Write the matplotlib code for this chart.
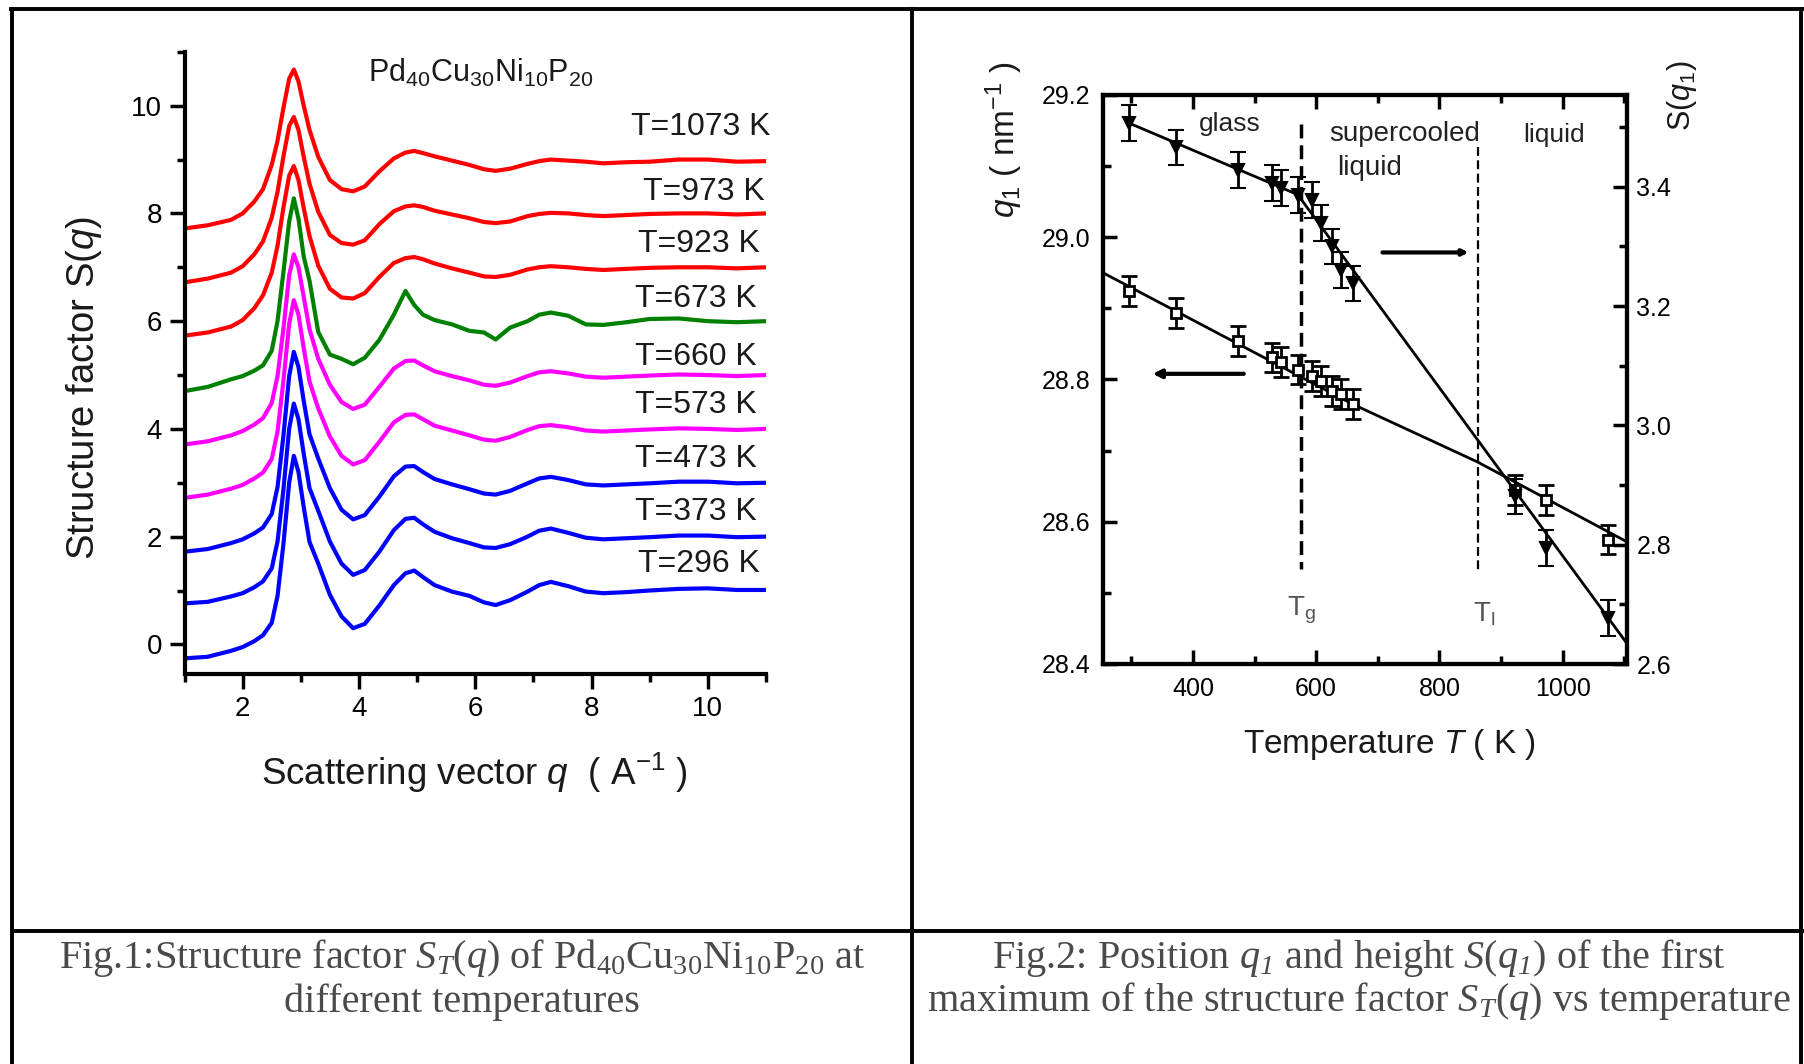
import matplotlib
matplotlib.use("Agg")
import matplotlib.pyplot as plt
from matplotlib.lines import Line2D
from matplotlib.ticker import MultipleLocator, FormatStrFormatter

plt.rcParams['font.family'] = ['Liberation Sans', 'DejaVu Sans']
plt.rcParams['mathtext.fontset'] = 'custom'
plt.rcParams['mathtext.rm'] = 'Liberation Sans'
plt.rcParams['mathtext.it'] = 'Liberation Sans:italic'
plt.rcParams['mathtext.cal'] = 'Liberation Serif:italic'

# ---- Fig.1 data: S(q) curves, each shifted up by its offset ----
q = [1.0, 1.4, 1.8, 2.0, 2.2, 2.35, 2.5, 2.6, 2.7, 2.8, 2.88, 2.96, 3.05, 3.15,
     3.3, 3.5, 3.7, 3.9, 4.1, 4.35, 4.6, 4.8, 4.95, 5.1, 5.3, 5.6, 5.9, 6.15,
     6.35, 6.6, 6.9, 7.1, 7.3, 7.6, 7.9, 8.2, 8.6, 9.0, 9.5, 10.0, 10.5, 11.0]

s_1073 = [-0.28, -0.22, -0.12, 0.0, 0.22, 0.45, 0.90, 1.35, 1.95, 2.50, 2.67, 2.45, 2.00, 1.55,
          1.05, 0.62, 0.45, 0.41, 0.50, 0.78, 1.02, 1.13, 1.16, 1.12, 1.06, 0.98, 0.90, 0.82,
          0.79, 0.83, 0.92, 0.97, 1.00, 0.98, 0.96, 0.93, 0.95, 0.96, 1.00, 1.00, 0.96, 0.97]
s_973 = [-0.28, -0.21, -0.10, 0.02, 0.24, 0.48, 0.92, 1.40, 2.05, 2.62, 2.79, 2.55, 2.05, 1.55,
         1.03, 0.60, 0.45, 0.42, 0.50, 0.80, 1.04, 1.13, 1.15, 1.12, 1.05, 0.98, 0.91, 0.84,
         0.82, 0.85, 0.95, 0.99, 1.01, 1.00, 0.97, 0.95, 0.97, 0.99, 1.00, 1.00, 0.98, 1.00]
s_923 = [-0.27, -0.21, -0.10, 0.02, 0.24, 0.48, 0.90, 1.40, 2.10, 2.70, 2.88, 2.62, 2.10, 1.58,
         1.03, 0.60, 0.44, 0.42, 0.52, 0.82, 1.08, 1.17, 1.19, 1.15, 1.07, 0.98, 0.90, 0.83,
         0.82, 0.86, 0.96, 1.00, 1.02, 1.00, 0.97, 0.95, 0.97, 0.99, 1.00, 1.00, 0.98, 1.00]
s_673 = [-0.30, -0.22, -0.08, -0.02, 0.08, 0.18, 0.45, 1.00, 1.90, 2.85, 3.28, 2.90, 2.20, 1.75,
         0.80, 0.38, 0.30, 0.20, 0.32, 0.65, 1.12, 1.56, 1.30, 1.12, 1.02, 0.94, 0.82, 0.79,
         0.66, 0.88, 1.00, 1.12, 1.16, 1.10, 0.94, 0.93, 0.98, 1.04, 1.05, 1.00, 0.98, 1.00]
s_660 = [-0.29, -0.23, -0.12, -0.04, 0.08, 0.20, 0.48, 0.98, 1.85, 2.85, 3.24, 3.00, 2.45, 1.85,
         1.30, 0.82, 0.50, 0.37, 0.45, 0.78, 1.12, 1.26, 1.27, 1.18, 1.07, 0.98, 0.90, 0.82,
         0.80, 0.86, 0.98, 1.05, 1.07, 1.03, 0.97, 0.95, 0.97, 0.99, 1.01, 1.00, 0.98, 1.00]
s_573 = [-0.28, -0.22, -0.11, -0.04, 0.08, 0.19, 0.44, 0.95, 1.88, 2.95, 3.39, 3.12, 2.50, 1.88,
         1.38, 0.86, 0.50, 0.34, 0.42, 0.76, 1.12, 1.26, 1.27, 1.18, 1.06, 0.97, 0.88, 0.80,
         0.78, 0.85, 0.98, 1.05, 1.07, 1.03, 0.97, 0.95, 0.97, 0.99, 1.01, 1.00, 0.98, 1.00]
s_473 = [-0.28, -0.23, -0.12, -0.05, 0.06, 0.17, 0.42, 0.92, 1.86, 2.98, 3.43, 3.15, 2.52, 1.90,
         1.45, 0.90, 0.50, 0.32, 0.40, 0.74, 1.12, 1.30, 1.31, 1.20, 1.07, 0.97, 0.88, 0.80,
         0.78, 0.85, 0.99, 1.08, 1.11, 1.05, 0.97, 0.95, 0.97, 0.99, 1.02, 1.02, 0.99, 1.00]
s_373 = [-0.24, -0.21, -0.11, -0.05, 0.06, 0.17, 0.41, 0.91, 1.86, 3.00, 3.47, 3.18, 2.54, 1.90,
         1.48, 0.91, 0.50, 0.29, 0.38, 0.72, 1.12, 1.33, 1.35, 1.23, 1.09, 0.97, 0.88, 0.80,
         0.79, 0.86, 1.00, 1.11, 1.15, 1.07, 0.98, 0.95, 0.97, 0.99, 1.02, 1.02, 0.99, 1.00]
s_296 = [-0.26, -0.23, -0.12, -0.05, 0.06, 0.17, 0.40, 0.90, 1.85, 3.00, 3.50, 3.20, 2.55, 1.90,
         1.50, 0.92, 0.52, 0.30, 0.38, 0.72, 1.10, 1.32, 1.37, 1.25, 1.10, 0.98, 0.90, 0.78,
         0.73, 0.82, 0.98, 1.10, 1.16, 1.08, 0.98, 0.95, 0.97, 1.00, 1.03, 1.04, 1.01, 1.01]

curves = [s_1073, s_973, s_923, s_673, s_660, s_573, s_473, s_373, s_296]
labels = ['T=1073 K', 'T=973 K', 'T=923 K', 'T=673 K', 'T=660 K',
          'T=573 K', 'T=473 K', 'T=373 K', 'T=296 K']
offsets = [8, 7, 6, 5, 4, 3, 2, 1, 0]
colors = ['#ff0000', '#ff0000', '#ff0000', '#008000', '#ff00ff',
          '#ff00ff', '#0000ff', '#0000ff', '#0000ff']
label_x = [11.08, 10.97, 10.89, 10.84, 10.84, 10.84, 10.84, 10.84, 10.89]
label_y = [9.61, 8.40, 7.44, 6.42, 5.33, 4.44, 3.44, 2.45, 1.50]

# ---- Fig.2 data ----
T_low = [296, 373, 473, 528, 543, 571, 593, 608, 625, 640, 660, 923, 973, 1073]
q1 = [28.924, 28.894, 28.854, 28.831, 28.824, 28.814, 28.805, 28.798, 28.784,
      28.779, 28.765, 28.645, 28.631, 28.575]
q1_err = [0.021] * 14
S1 = [3.507, 3.466, 3.428, 3.406, 3.398, 3.386, 3.378, 3.339, 3.300, 3.261,
      3.238, 2.881, 2.794, 2.677]
S1_err = [0.03] * 14

fit_T_q = [254, 660, 862, 1104]
fit_q = [28.950, 28.765, 28.684, 28.572]
fit_T_S = [296, 570, 1104]
fit_S = [3.507, 3.387, 2.635]

Tg, Tl = 576, 862

W, H = 1804, 1064
fig = plt.figure(figsize=(W / 100, H / 100), dpi=100)

def fx(px):
    return px / W

def fy(py):
    return 1 - py / H

# ================= left panel =================
ax = fig.add_axes([fx(184.5), fy(674), fx(766 - 184.5), (674 - 51.8) / H])
for s, off, c in zip(curves, offsets, colors):
    ax.plot(q, [v + off for v in s], color=c, lw=3, solid_joinstyle='round')
for lab, lx, ly in zip(labels, label_x, label_y):
    ax.text(lx, ly, lab, ha='right', va='center', fontsize=23, color='#1a1a1a')
ax.text(6.1, 10.44, r'Pd$_{\mathregular{40}}$Cu$_{\mathregular{30}}$Ni$_{\mathregular{10}}$P$_{\mathregular{20}}$',
        ha='center', va='baseline', fontsize=22, color='#1a1a1a')

ax.set_xlim(1, 11)
ax.set_ylim(-0.55, 11.0)
ax.spines['top'].set_visible(False)
ax.spines['right'].set_visible(False)
for sp in ['left', 'bottom']:
    ax.spines[sp].set_linewidth(3)
ax.xaxis.set_minor_locator(MultipleLocator(1))
ax.yaxis.set_minor_locator(MultipleLocator(1))
ax.set_xticks([2, 4, 6, 8, 10])
ax.set_yticks([0, 2, 4, 6, 8, 10])
ax.tick_params(which='major', direction='out', length=11, width=2.5, labelsize=20, pad=5)
ax.tick_params(which='minor', direction='out', length=6, width=2.5)

fig.text(fx(84), fy(388), r'Structure factor S($q$)', rotation=90,
         ha='center', va='center', fontsize=27.5, color='#1a1a1a')
fig.text(fx(474), fy(773), r'Scattering vector $q$  ( A$^{\mathregular{-1}}$ )',
         ha='center', va='center', fontsize=26.5, color='#1a1a1a')

# ================= right panel =================
ax2 = fig.add_axes([fx(1103), fy(664), fx(1626.7 - 1103), (664 - 95) / H])
ax2r = ax2.twinx()

ax2.plot(fit_T_q, fit_q, color='k', lw=2)
ax2.errorbar(T_low, q1, yerr=q1_err, fmt='s', ms=7, mfc='white', mec='k', mew=2,
             ecolor='k', elinewidth=2, capsize=5.5, capthick=2)
ax2r.plot(fit_T_S, fit_S, color='k', lw=2)
ax2r.errorbar(T_low, S1, yerr=S1_err, fmt='v', ms=9, mfc='k', mec='k', mew=1.5,
              ecolor='k', elinewidth=2, capsize=5.5, capthick=2)

ax2.plot([Tg, Tg], [29.159, 28.533], color='k', lw=2.5, ls=(0, (4, 2)))
ax2.plot([Tl, Tl], [29.127, 28.528], color='k', lw=1.6, ls=(0, (4, 2)))

ax2.annotate('', xy=(330, 28.808), xytext=(487, 28.808),
             arrowprops=dict(arrowstyle='-|>', lw=3, color='k', mutation_scale=12))
ax2r.annotate('', xy=(852, 3.29), xytext=(703, 3.29),
              arrowprops=dict(arrowstyle='-|>', lw=3, color='k', mutation_scale=8))

ax2.text(460, 29.159, 'glass', ha='center', va='center', fontsize=19, color='#222222')
ax2.text(621, 29.145, 'supercooled', ha='left', va='center', fontsize=20, color='#222222')
ax2.text(634, 29.097, 'liquid', ha='left', va='center', fontsize=20, color='#222222')
ax2.text(986, 29.144, 'liquid', ha='center', va='center', fontsize=19, color='#222222')
ax2.text(Tg, 28.475, r'T$_{\mathregular{g}}$', ha='center', va='center', fontsize=20, color='#555555')
ax2.text(Tl + 10, 28.47, r'T$_{\mathregular{l}}$', ha='center', va='center', fontsize=20, color='#555555')

ax2.set_xlim(254, 1104)
ax2.set_ylim(28.4, 29.2)
ax2r.set_ylim(2.6, 3.554)
ax2.xaxis.set_major_locator(MultipleLocator(200))
ax2.xaxis.set_minor_locator(MultipleLocator(100))
ax2.yaxis.set_major_locator(MultipleLocator(0.2))
ax2.yaxis.set_minor_locator(MultipleLocator(0.1))
ax2r.yaxis.set_major_locator(MultipleLocator(0.2))
ax2r.yaxis.set_minor_locator(MultipleLocator(0.1))
ax2.yaxis.set_major_formatter(FormatStrFormatter('%.1f'))
ax2r.yaxis.set_major_formatter(FormatStrFormatter('%.1f'))
for a in (ax2, ax2r):
    for sp in a.spines.values():
        sp.set_linewidth(3)
ax2.tick_params(which='major', direction='in', length=10, width=2.5, labelsize=18,
                top=True, pad=9)
ax2.tick_params(which='minor', direction='in', length=6, width=2.5, top=True)
ax2r.tick_params(which='major', direction='in', length=10, width=2.5, labelsize=18, pad=7)
ax2r.tick_params(which='minor', direction='in', length=6, width=2.5)

fig.text(fx(1004), fy(140), r'$q_{\mathregular{1}}$ ( nm$^{\mathregular{-1}}$ )', rotation=90,
         ha='center', va='center', fontsize=24, color='#1a1a1a')
fig.text(fx(1682), fy(96), r'S($q_{\mathregular{1}}$)', rotation=90,
         ha='center', va='center', fontsize=22, color='#1a1a1a')
fig.text(fx(1390), fy(745), r'Temperature $T$ ( K )', ha='center', va='center',
         fontsize=24, color='#1a1a1a')

# ================= table frame and captions =================
frame = [([11, W], [9, 9]), ([12, 12], [9, H]), ([912, 912], [9, H]),
         ([1801, 1801], [9, H]), ([12, W], [931, 931])]
for xs, ys in frame:
    fig.add_artist(Line2D([fx(v) for v in xs], [fy(v) for v in ys],
                          transform=fig.transFigure, color='k', lw=2.8))

cap_font = dict(family='Liberation Serif', fontsize=29, color='#4a4a4a', ha='center', va='center')
fig.text(fx(462), fy(958),
         r'Fig.1:Structure factor $\mathcal{S}_{\mathcal{T}}\mathregular{(}\mathcal{q}\mathregular{)}$ of '
         r'Pd$_{\mathregular{40}}$Cu$_{\mathregular{30}}$Ni$_{\mathregular{10}}$P$_{\mathregular{20}}$ at',
         **cap_font)
fig.text(fx(462), fy(1002), 'different temperatures', **cap_font)
fig.text(fx(1359), fy(958),
         r'Fig.2: Position $\mathcal{q}_{\mathcal{1}}$ and height '
         r'$\mathcal{S}\mathregular{(}\mathcal{q}_{\mathcal{1}}\mathregular{)}$ of the first',
         **cap_font)
fig.text(fx(1359), fy(1001),
         r'maximum of the structure factor $\mathcal{S}_{\mathcal{T}}\mathregular{(}\mathcal{q}\mathregular{)}$ vs temperature',
         **cap_font)

fig.savefig('out.png', dpi=100)
